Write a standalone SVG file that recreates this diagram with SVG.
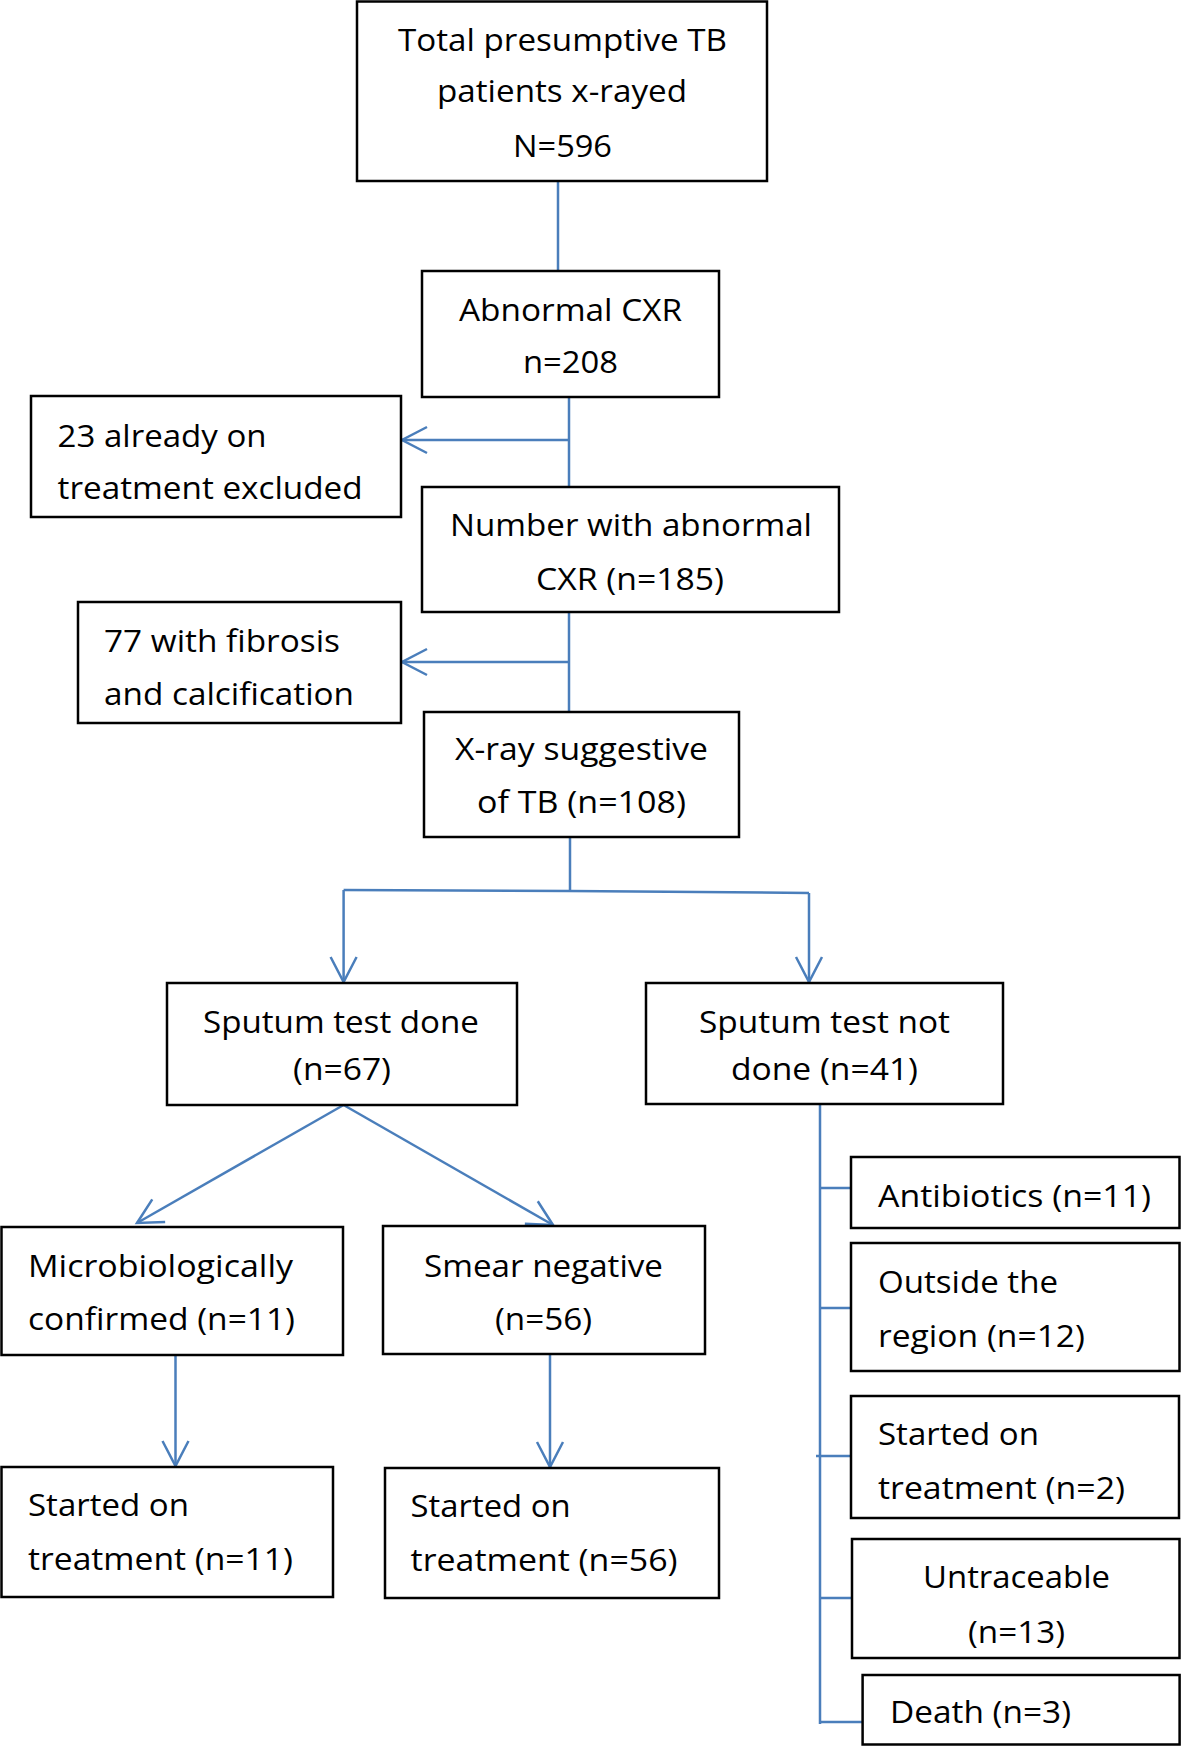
<svg xmlns="http://www.w3.org/2000/svg" width="1181" height="1746" viewBox="0 0 1181 1746">
<style>
.box{fill:#fff;stroke:#000;stroke-width:2.5}
.t{font-family:"Open Sans","Noto Sans","Liberation Sans",sans-serif;font-size:31px;fill:#000}
.c{fill:none;stroke:#4a7ebb;stroke-width:2.5}
</style>
<defs>
<marker id="ah" markerUnits="userSpaceOnUse" markerWidth="40" markerHeight="40" viewBox="-30 -20 40 40" refX="0" refY="0" orient="auto">
<path d="M-25,-13 L0,0 L-25,13" fill="none" stroke="#4a7ebb" stroke-width="2.5"/>
</marker>
</defs>
<rect width="1181" height="1746" fill="#fff"/>
<g id="connectors">
<line class="c" x1="558" y1="181" x2="558" y2="271"/>
<line class="c" x1="569" y1="397" x2="569" y2="487"/>
<line class="c" x1="569" y1="440" x2="402" y2="440" marker-end="url(#ah)"/>
<line class="c" x1="569" y1="612" x2="569" y2="712"/>
<line class="c" x1="569" y1="662" x2="402" y2="662" marker-end="url(#ah)"/>
<line class="c" x1="570" y1="837" x2="570" y2="891"/>
<polyline class="c" points="343.6,890 570,891 809,893"/>
<line class="c" x1="343.6" y1="890" x2="343.6" y2="982" marker-end="url(#ah)"/>
<line class="c" x1="809" y1="893" x2="809" y2="982" marker-end="url(#ah)"/>
<line class="c" x1="343.6" y1="1105" x2="137" y2="1223" marker-end="url(#ah)"/>
<line class="c" x1="343.6" y1="1105" x2="553" y2="1225" marker-end="url(#ah)"/>
<line class="c" x1="175.5" y1="1355" x2="175.5" y2="1466" marker-end="url(#ah)"/>
<line class="c" x1="550" y1="1354" x2="550" y2="1467" marker-end="url(#ah)"/>
<line class="c" x1="820" y1="1104" x2="820" y2="1724"/>
<line class="c" x1="820" y1="1188" x2="853" y2="1188"/>
<line class="c" x1="820" y1="1308" x2="853" y2="1308"/>
<line class="c" x1="816" y1="1456" x2="851" y2="1456"/>
<line class="c" x1="820" y1="1598" x2="853" y2="1598"/>
<line class="c" x1="820" y1="1722" x2="862" y2="1722"/>
</g>
<g id="n-total">
<rect class="box" x="357" y="1.5" width="410" height="179.5"/>
<text class="t" x="398" y="51" textLength="329" lengthAdjust="spacingAndGlyphs">Total presumptive TB</text>
<text class="t" x="437" y="102" textLength="250" lengthAdjust="spacingAndGlyphs">patients x-rayed</text>
<text class="t" x="513" y="157" textLength="99" lengthAdjust="spacingAndGlyphs">N=596</text>
</g>
<g id="n-abnormal">
<rect class="box" x="422" y="271" width="297" height="126"/>
<text class="t" x="459" y="321" textLength="223" lengthAdjust="spacingAndGlyphs">Abnormal CXR</text>
<text class="t" x="523" y="373" textLength="95" lengthAdjust="spacingAndGlyphs">n=208</text>
</g>
<g id="n-excluded">
<rect class="box" x="31" y="396" width="370" height="121"/>
<text class="t" x="57.6" y="447" textLength="209" lengthAdjust="spacingAndGlyphs">23 already on</text>
<text class="t" x="57.6" y="499" textLength="305" lengthAdjust="spacingAndGlyphs">treatment excluded</text>
</g>
<g id="n-number">
<rect class="box" x="422" y="487" width="417" height="125"/>
<text class="t" x="450" y="536" textLength="362" lengthAdjust="spacingAndGlyphs">Number with abnormal</text>
<text class="t" x="536" y="590" textLength="188" lengthAdjust="spacingAndGlyphs">CXR (n=185)</text>
</g>
<g id="n-fibrosis">
<rect class="box" x="78" y="602" width="323" height="121"/>
<text class="t" x="104" y="652" textLength="236" lengthAdjust="spacingAndGlyphs">77 with fibrosis</text>
<text class="t" x="104" y="705" textLength="250" lengthAdjust="spacingAndGlyphs">and calcification</text>
</g>
<g id="n-xray">
<rect class="box" x="424" y="712" width="315" height="125"/>
<text class="t" x="455" y="760" textLength="253" lengthAdjust="spacingAndGlyphs">X-ray suggestive</text>
<text class="t" x="477" y="813" textLength="209" lengthAdjust="spacingAndGlyphs">of TB (n=108)</text>
</g>
<g id="n-sputum-done">
<rect class="box" x="167" y="983" width="350" height="122"/>
<text class="t" x="203" y="1033" textLength="276" lengthAdjust="spacingAndGlyphs">Sputum test done</text>
<text class="t" x="293" y="1080" textLength="98" lengthAdjust="spacingAndGlyphs">(n=67)</text>
</g>
<g id="n-sputum-not">
<rect class="box" x="646" y="983" width="357" height="121"/>
<text class="t" x="699" y="1033" textLength="251" lengthAdjust="spacingAndGlyphs">Sputum test not</text>
<text class="t" x="731" y="1080" textLength="187" lengthAdjust="spacingAndGlyphs">done (n=41)</text>
</g>
<g id="n-micro">
<rect class="box" x="1.5" y="1227" width="341.5" height="128"/>
<text class="t" x="28" y="1277" textLength="265" lengthAdjust="spacingAndGlyphs">Microbiologically</text>
<text class="t" x="28" y="1330" textLength="267" lengthAdjust="spacingAndGlyphs">confirmed (n=11)</text>
</g>
<g id="n-smear">
<rect class="box" x="383" y="1226" width="322" height="128"/>
<text class="t" x="424" y="1277" textLength="239" lengthAdjust="spacingAndGlyphs">Smear negative</text>
<text class="t" x="495" y="1330" textLength="97" lengthAdjust="spacingAndGlyphs">(n=56)</text>
</g>
<g id="n-started11">
<rect class="box" x="1.5" y="1467" width="331.5" height="130"/>
<text class="t" x="28" y="1516" textLength="161" lengthAdjust="spacingAndGlyphs">Started on</text>
<text class="t" x="28" y="1570" textLength="265" lengthAdjust="spacingAndGlyphs">treatment (n=11)</text>
</g>
<g id="n-started56">
<rect class="box" x="385" y="1468" width="334" height="130"/>
<text class="t" x="410.6" y="1517" textLength="160" lengthAdjust="spacingAndGlyphs">Started on</text>
<text class="t" x="410.6" y="1571" textLength="267" lengthAdjust="spacingAndGlyphs">treatment (n=56)</text>
</g>
<g id="n-antibiotics">
<rect class="box" x="851" y="1157" width="328.5" height="71"/>
<text class="t" x="878" y="1207" textLength="273" lengthAdjust="spacingAndGlyphs">Antibiotics (n=11)</text>
</g>
<g id="n-outside">
<rect class="box" x="851" y="1243" width="328.5" height="128"/>
<text class="t" x="878" y="1293" textLength="180" lengthAdjust="spacingAndGlyphs">Outside the</text>
<text class="t" x="878" y="1347" textLength="207" lengthAdjust="spacingAndGlyphs">region (n=12)</text>
</g>
<g id="n-started2">
<rect class="box" x="851" y="1396" width="328" height="122"/>
<text class="t" x="878" y="1445" textLength="161" lengthAdjust="spacingAndGlyphs">Started on</text>
<text class="t" x="878" y="1499" textLength="247" lengthAdjust="spacingAndGlyphs">treatment (n=2)</text>
</g>
<g id="n-untraceable">
<rect class="box" x="852" y="1539" width="327.5" height="119"/>
<text class="t" x="923" y="1588" textLength="187" lengthAdjust="spacingAndGlyphs">Untraceable</text>
<text class="t" x="968" y="1643" textLength="97" lengthAdjust="spacingAndGlyphs">(n=13)</text>
</g>
<g id="n-death">
<rect class="box" x="862.6" y="1675" width="317" height="69.5"/>
<text class="t" x="890" y="1723" textLength="181" lengthAdjust="spacingAndGlyphs">Death (n=3)</text>
</g>
</svg>
